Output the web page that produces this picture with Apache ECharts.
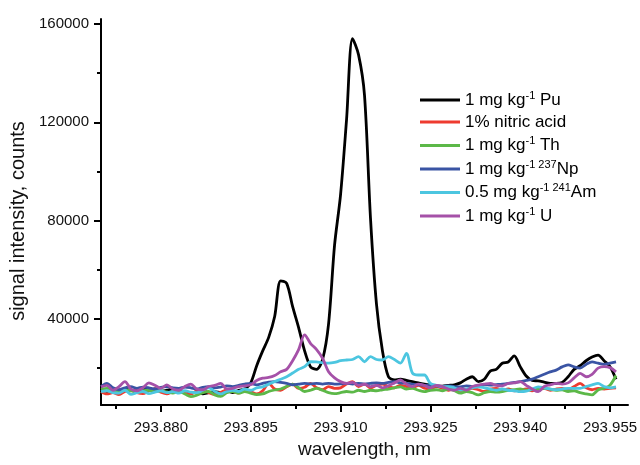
<!DOCTYPE html>
<html>
<head>
<meta charset="utf-8">
<script src="https://cdn.jsdelivr.net/npm/echarts@6/dist/echarts.min.js"></script>
<style>
  html, body { margin: 0; padding: 0; background: #fff; }
  #main { width: 640px; height: 465px; }
</style>
</head>
<body>
<div id="main"></div>
<script>
// wavelength grid: spectra are sampled every 0.001 nm from 293.870 nm
var lambdaStart = 293.870;
var lambdaStep = 0.001;

// signal intensity, counts
var pu = [11000, 10500, 11800, 11000, 11500, 10800, 11200, 11800, 11000, 11500,
  10600, 11000, 11500, 10200, 10500, 9800, 10300, 9500, 10000, 10400,
  10000, 10800, 10000, 11000, 11500, 14000, 21000, 27000, 32500, 41000,
  55500, 54500, 45000, 36500, 27000, 20500, 19500, 23500, 38000, 70000,
  90500, 121000, 154000, 147500, 131000, 81000, 46000, 27000, 16500, 15200,
  15500, 15000, 14500, 14000, 13500, 13100, 12800, 12700, 13000, 13200,
  14000, 15500, 16500, 14500, 15500, 18800, 19500, 22000, 22500, 25000,
  20600, 16800, 15000, 14800, 14300, 13800, 13800, 14200, 16500, 19500,
  21000, 23000, 24500, 25300, 23000, 20600, 15500];
var nitric = [10500, 9500, 10000, 9200, 10500, 11000, 10000, 9600, 10800, 11500,
  10200, 9500, 10500, 11000, 9800, 9500, 10800, 11200, 10000, 9300,
  10200, 11000, 10500, 9800, 11500, 10500, 9500, 10800, 13800, 11500,
  11000, 12400, 13500, 11800, 12200, 13800, 12000, 11200, 12500, 11800,
  12000, 13500, 14500, 12500, 13500, 12000, 13000, 13500, 12500, 12000,
  13000, 12500, 12000, 13000, 11800, 11500, 12500, 11800, 11000, 11500,
  10400, 11000, 11800, 11200, 10500, 11500, 11800, 11000, 11500, 10800,
  11100, 11500, 10800, 11200, 11800, 11000, 11500, 11800, 11200, 12500,
  13800, 12000, 11200, 11800, 11500, 11800, 12000];
var th = [11500, 11800, 11000, 10500, 11200, 10800, 10200, 10800, 11000, 10500,
  10800, 10300, 9800, 10500, 9500, 8400, 9000, 10000, 10500, 9100,
  8500, 10000, 10500, 9800, 10500, 9800, 9200, 9500, 10500, 11100,
  11500, 12500, 13500, 12000, 10500, 11000, 11800, 11000, 10000, 9600,
  10000, 10500, 10200, 11000, 10500, 11000, 10800, 11200, 11500, 12000,
  12400, 11500, 11800, 11000, 10400, 11000, 11200, 10800, 11500, 10800,
  9800, 10500, 10000, 9100, 10000, 10500, 10200, 10400, 11000, 11200,
  11500, 11000, 11300, 11500, 11800, 11500, 11000, 11200, 10500, 10800,
  10000, 9500, 9100, 11100, 11800, 13100, 17000];
var np = [12500, 13800, 12000, 11200, 12000, 12500, 11800, 12300, 12000, 11500,
  12200, 12500, 12000, 11800, 12300, 12000, 11500, 12200, 12500, 12000,
  12300, 12800, 12500, 13000, 13500, 13800, 13200, 13800, 14300, 14500,
  14200, 13800, 13200, 13500, 13800, 13600, 13800, 13500, 13800, 13500,
  13600, 13800, 13500, 13800, 13500, 13800, 14000, 13800, 14200, 14500,
  14000, 13800, 13500, 13200, 13000, 13100, 12800, 12500, 12800, 12500,
  12400, 12800, 12500, 13000, 13200, 13100, 13300, 13500, 13800, 14200,
  14500, 15000, 15500, 16500, 17500, 18500, 19200, 20500, 21300, 20500,
  20000, 21500, 22500, 22000, 21500, 22000, 22500];
var am = [10400, 10800, 10000, 9800, 11000, 9300, 10000, 10500, 9600, 10200,
  10800, 10000, 10500, 9800, 10800, 10200, 10000, 11000, 12000, 10500,
  9500, 10500, 11000, 10500, 11500, 11000, 12000, 12400, 13500, 14500,
  15500, 16500, 18000, 19500, 20600, 22600, 22500, 22200, 22000, 22300,
  23000, 23300, 23500, 24700, 22600, 24700, 23500, 23300, 24700, 23500,
  22000, 26000, 18000, 17200, 17200, 13800, 13000, 12400, 12500, 12000,
  11100, 11500, 12000, 12400, 12000, 11500, 11000, 11500, 11000, 10800,
  10400, 10600, 11500, 12400, 12000, 11500, 11200, 11500, 11800, 11800,
  11800, 12500, 13200, 13800, 12500, 12000, 12400];
var u = [12400, 13000, 11000, 12500, 14500, 11500, 10800, 12000, 14000, 13000,
  11800, 13200, 11500, 11000, 12500, 13500, 11500, 11200, 12500, 13000,
  13800, 11500, 11800, 12500, 12800, 13200, 15000, 15900, 16200, 17000,
  18500, 19500, 23000, 27500, 33500, 30000, 27500, 24000, 18500, 16000,
  14500, 13800, 14200, 13000, 13500, 12500, 13000, 12000, 12800, 14000,
  15200, 13500, 12500, 13500, 13000, 12000, 13000, 12500, 11500, 11000,
  11800, 11000, 12500, 13100, 13500, 13800, 13000, 12800, 13800, 14000,
  14500, 13000, 11500, 10400, 12500, 13200, 13800, 13500, 14000, 16000,
  17900, 16500, 17500, 20000, 20600, 20200, 18500];

// axis ticks
var xMajorTicks = [293.880, 293.895, 293.910, 293.925, 293.940, 293.955];
var xMinorTicks = [293.8725, 293.8875, 293.9025, 293.9175, 293.9325, 293.9475];
var yMajorTicks = [40000, 80000, 120000, 160000];
var yMinorTicks = [20000, 60000, 100000, 140000];

var seriesNames = ['Pu', 'HNO3', 'Th', 'Np', 'Am', 'U'];
var seriesData = [pu, nitric, th, np, am, u];
var seriesColors = ['#000000', '#ee3b2f', '#5cb848', '#3a54a4', '#4cc6e0', '#a551a8'];
var legendText = {
  'Pu': '{a|1 mg kg}{s|-1}{a| Pu}',
  'HNO3': '{a|1% nitric acid}',
  'Th': '{a|1 mg kg}{s|-1}{a| Th}',
  'Np': '{a|1 mg kg}{s|-1 237}{a|Np}',
  'Am': '{a|0.5 mg kg}{s|-1 241}{a|Am}',
  'U': '{a|1 mg kg}{s|-1}{a| U}'
};

var font = "'Liberation Sans', Arial, sans-serif";
var myChart = echarts.init(document.getElementById('main'));

var series = seriesNames.map(function (name, k) {
  return {
    name: name,
    type: 'line',
    xAxisIndex: 0,
    yAxisIndex: 0,
    showSymbol: false,
    smooth: 0.3,
    lineStyle: { width: 2.8, color: seriesColors[k] },
    itemStyle: { color: seriesColors[k] },
    data: seriesData[k].map(function (v, i) {
      return [lambdaStart + i * lambdaStep, v];
    })
  };
});

var option = {
  animation: false,
  backgroundColor: '#fff',
  textStyle: { fontFamily: font },
  grid: { left: 101, right: 12, top: 19, bottom: 60, outerBoundsMode: 'none' },
  legend: {
    orient: 'vertical',
    left: 420,
    top: 90,
    padding: 0,
    icon: 'rect',
    itemWidth: 40,
    itemHeight: 3,
    itemGap: 5,
    data: seriesNames,
    formatter: function (name) { return legendText[name]; },
    textStyle: {
      rich: {
        a: { fontSize: 17, lineHeight: 20, color: '#000', fontFamily: font, verticalAlign: 'middle' },
        s: { fontSize: 11, lineHeight: 11, color: '#000', fontFamily: font, verticalAlign: 'top' }
      }
    }
  },
  xAxis: [
    {
      type: 'value',
      position: 'bottom',
      min: 293.870,
      max: 293.958,
      name: 'wavelength, nm',
      nameLocation: 'middle',
      nameGap: 33,
      nameTextStyle: { fontSize: 19, color: '#111', fontFamily: font },
      splitLine: { show: false },
      axisLine: { lineStyle: { color: '#000', width: 2 } },
      axisTick: { customValues: xMajorTicks, length: 7, lineStyle: { color: '#000', width: 2 } },
      axisLabel: {
        customValues: xMajorTicks,
        margin: 15,
        fontSize: 15,
        color: '#111',
        fontFamily: font,
        formatter: function (v) { return v.toFixed(3); }
      }
    },
    {
      type: 'value',
      position: 'bottom',
      min: 293.870,
      max: 293.958,
      splitLine: { show: false },
      axisLine: { show: false },
      axisTick: { customValues: xMinorTicks, length: 4, lineStyle: { color: '#000', width: 2 } },
      axisLabel: { show: false, customValues: xMinorTicks }
    }
  ],
  yAxis: [
    {
      type: 'value',
      position: 'left',
      min: 5000,
      max: 162000,
      name: 'signal intensity, counts',
      nameLocation: 'middle',
      nameGap: 65,
      nameTextStyle: { fontSize: 20, color: '#111', fontFamily: font, padding: [0, 18, 0, 0] },
      splitLine: { show: false },
      axisLine: { show: true, lineStyle: { color: '#000', width: 2 } },
      axisTick: { show: true, customValues: yMajorTicks, length: 7, lineStyle: { color: '#000', width: 2 } },
      axisLabel: {
        customValues: yMajorTicks,
        margin: 12,
        fontSize: 15,
        color: '#111',
        fontFamily: font,
        formatter: function (v) { return String(v); }
      }
    },
    {
      type: 'value',
      position: 'left',
      min: 5000,
      max: 162000,
      splitLine: { show: false },
      axisLine: { show: false },
      axisTick: { show: true, customValues: yMinorTicks, length: 4, lineStyle: { color: '#000', width: 2 } },
      axisLabel: { show: false, customValues: yMinorTicks }
    }
  ],
  series: series
};

myChart.setOption(option);
</script>
</body>
</html>
